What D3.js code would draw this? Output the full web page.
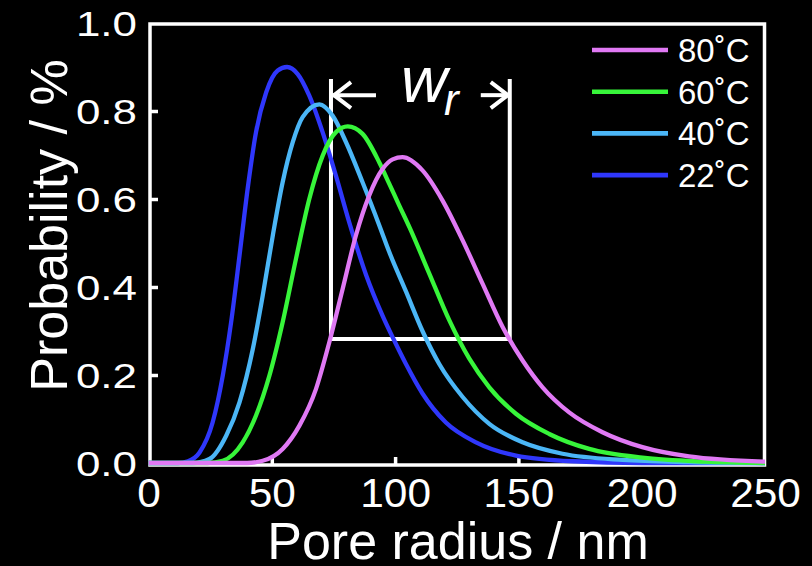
<!DOCTYPE html>
<html>
<head>
<meta charset="utf-8">
<script src="https://cdn.jsdelivr.net/npm/d3@7"></script>
<style>
  html, body { margin: 0; padding: 0; background: #000; }
  svg { display: block; }
  text { font-family: "Liberation Sans", Arial, sans-serif; fill: #fff; }
</style>
</head>
<body>
<div id="chart"></div>
<script>
// values (x = pore radius / nm, y = probability)
var r22 = [[0,0],[12,0],[16,0.004],[20.7,0.024],[26,0.092],[30.1,0.198],[33.5,0.32],[36.9,0.471],[40.2,0.623],[43.6,0.752],[47.7,0.842],[52.4,0.892],[56.2,0.9],[60.5,0.884],[65.2,0.835],[70.6,0.752],[76,0.653],[81.4,0.547],[88.2,0.428],[94.9,0.335],[99.5,0.28],[104.4,0.225],[111.1,0.158],[120.6,0.092],[132.8,0.047],[149,0.017],[171.9,0.004],[200,0],[250,0]];
var r40 = [[0,0],[18,0],[24.7,0.009],[31.5,0.062],[36.9,0.138],[42.3,0.259],[46.3,0.38],[50.4,0.517],[54.4,0.638],[58.5,0.729],[62.5,0.786],[69.3,0.815],[74.7,0.789],[80.1,0.729],[86.8,0.638],[93.6,0.54],[97.6,0.48],[104.4,0.39],[111.1,0.3],[117.9,0.225],[127.4,0.15],[138.2,0.089],[151.7,0.047],[167.9,0.021],[192.2,0.007],[219,0.002],[250,0]];
var r60 = [[0,0],[24,0],[30.1,0.005],[38.2,0.047],[43.6,0.108],[49,0.198],[54.4,0.32],[59.8,0.464],[65.2,0.6],[70.6,0.698],[76,0.752],[80.8,0.765],[86.8,0.748],[93.6,0.683],[97.6,0.635],[101.7,0.585],[105.8,0.536],[113.9,0.43],[122,0.324],[130.1,0.237],[138.2,0.172],[149,0.112],[162.5,0.066],[178.7,0.032],[200.3,0.012],[226,0.003],[250,0]];
var r80 = [[0,0],[40,0],[46.3,0.005],[54.4,0.032],[61.2,0.085],[67.9,0.168],[73.3,0.274],[78.7,0.395],[84.1,0.517],[89.5,0.608],[94.9,0.668],[99,0.69],[103,0.695],[111.1,0.665],[119.2,0.597],[127.4,0.506],[135.5,0.407],[143.6,0.309],[151.7,0.233],[159.8,0.172],[170.6,0.115],[184.1,0.07],[200.3,0.036],[219.2,0.015],[250,0.003]];

var labels = ['80˚C', '60˚C', '40˚C', '22˚C'];
var colors = ['#e079f4', '#37f53a', '#4bb6f6', '#2f37fb'];
var seriesData = [r80, r60, r40, r22];

var xTicks = [0, 50, 100, 150, 200, 250];
var yTicks = [0, 0.2, 0.4, 0.6, 0.8, 1.0];

// w_r annotation (data units)
var wrLeft = 74, wrRight = 146.5, wrBottom = 0.282, wrTop = 0.873, wrArrow = 0.836;

var width = 812, height = 566;

var svg = d3.select('#chart').append('svg')
    .attr('width', width)
    .attr('height', height);

svg.append('rect').attr('width', width).attr('height', height).attr('fill', '#000');

var x = d3.scaleLinear().domain([0, 250]).range([148.5, 765]);
var y = d3.scaleLinear().domain([0, 1]).range([463, 23]);

var frame = { left: 150, right: 764.5, top: 24, bottom: 465 };

// frame box
svg.append('rect')
    .attr('x', frame.left)
    .attr('y', frame.top)
    .attr('width', frame.right - frame.left)
    .attr('height', frame.bottom - frame.top)
    .attr('fill', 'none')
    .attr('stroke', '#fff')
    .attr('stroke-width', 3.5);

// x axis (ticks point inward)
var gx = svg.append('g')
    .attr('transform', 'translate(0,' + frame.bottom + ')')
    .call(d3.axisBottom(x).tickValues(xTicks).tickSizeInner(-8).tickSizeOuter(0).tickPadding(13.6).tickFormat(d3.format('d')));
gx.select('.domain').remove();
gx.selectAll('.tick line').attr('stroke', '#fff').attr('stroke-width', 3.5)
    .attr('display', function (d) { return (d == 0 || d == 250) ? 'none' : null });
gx.selectAll('.tick text')
    .attr('font-size', 40)
    .attr('fill', '#fff')
    .attr('transform', 'scale(1.06,1)');

// y axis
var gy = svg.append('g')
    .attr('transform', 'translate(' + frame.left + ',0)')
    .call(d3.axisLeft(y).tickValues(yTicks).tickSizeInner(-8).tickSizeOuter(0).tickPadding(10.7).tickFormat(d3.format('.1f')));
gy.select('.domain').remove();
gy.selectAll('.tick line').attr('stroke', '#fff').attr('stroke-width', 3.5)
    .attr('display', function (d) { return (d == 0 || d == 1) ? 'none' : null });
gy.selectAll('.tick text')
    .attr('font-size', 36)
    .attr('fill', '#fff')
    .attr('dy', '0.35em')
    .attr('transform', 'scale(1.22,1)');

// axis titles
svg.append('text')
    .attr('x', 458)
    .attr('y', 559)
    .attr('text-anchor', 'middle')
    .attr('font-size', 52)
    .text('Pore radius / nm');

svg.append('text')
    .attr('transform', 'translate(67,225.5) rotate(-90)')
    .attr('text-anchor', 'middle')
    .attr('font-size', 52)
    .text('Probability / %');

// w_r bracket
var ann = svg.append('g').attr('stroke', '#fff').attr('stroke-width', 4).attr('fill', 'none');
ann.append('path')
    .attr('d', 'M' + x(wrLeft) + ',' + y(wrTop) + 'V' + y(wrBottom) + 'H' + x(wrRight) + 'V' + y(wrTop));
// left arrow
ann.append('path')
    .attr('d', 'M' + (x(wrLeft) + 2) + ',' + y(wrArrow) + 'H' + (x(wrLeft) + 45));
ann.append('path')
    .attr('d', 'M' + (x(wrLeft) + 20) + ',' + (y(wrArrow) - 13) + 'L' + (x(wrLeft) + 3) + ',' + y(wrArrow) + 'L' + (x(wrLeft) + 20) + ',' + (y(wrArrow) + 13));
// right arrow
ann.append('path')
    .attr('d', 'M' + (x(wrRight) - 29) + ',' + y(wrArrow) + 'H' + (x(wrRight) - 2));
ann.append('path')
    .attr('d', 'M' + (x(wrRight) - 19) + ',' + (y(wrArrow) - 13) + 'L' + (x(wrRight) - 2) + ',' + y(wrArrow) + 'L' + (x(wrRight) - 19) + ',' + (y(wrArrow) + 13));

var wr = svg.append('text')
    .attr('x', 401)
    .attr('y', 102)
    .attr('font-size', 64)
    .attr('font-style', 'italic');
wr.append('tspan').text('w');
wr.append('tspan').attr('font-size', 44).attr('x', 444).attr('y', 115).text('r');

// curves, 22°C drawn first so 80°C ends on top
var line = d3.line()
    .x(function (d) { return x(d[0]) })
    .y(function (d) { return y(d[1]) })
    .curve(d3.curveMonotoneX);

svg.append('g')
    .selectAll('path')
    .data(d3.range(seriesData.length).reverse())
    .enter()
    .append('path')
    .attr('d', function (i) { return line(seriesData[i]) })
    .attr('fill', 'none')
    .attr('stroke', function (i) { return colors[i] })
    .attr('stroke-width', 4.3)
    .attr('stroke-linejoin', 'round');

// legend
var legend = svg.append('g')
    .selectAll('g')
    .data(labels)
    .enter()
    .append('g')
    .attr('transform', function (d, i) { return 'translate(592,' + (50 + i * 41.7) + ')' });

legend.append('line')
    .attr('x1', 0).attr('x2', 76)
    .attr('stroke', function (d, i) { return colors[i] })
    .attr('stroke-width', 4.6);

legend.append('text')
    .attr('x', 86)
    .attr('y', 12)
    .attr('font-size', 33)
    .text(function (d) { return d });
</script>
</body>
</html>
